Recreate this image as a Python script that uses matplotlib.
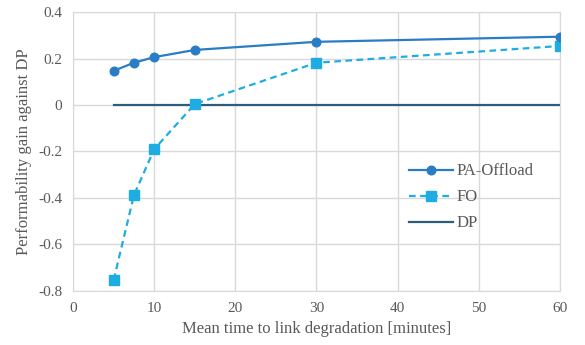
import numpy as np
import matplotlib.pyplot as plt

plt.rcParams['font.family'] = ['Liberation Serif', 'DejaVu Serif']

# data
x = [5, 7.5, 10, 15, 30, 60]
pa_offload = [0.147, 0.182, 0.206, 0.237, 0.272, 0.294]
fo = [-0.753, -0.388, -0.19, 0.004, 0.182, 0.254]
dp = [0, 0, 0, 0, 0, 0]

c_pa = "#2A7DC5"
c_fo = "#1DADE3"
c_dp = "#2E5D7C"
grey = "#595959"
gridc = "#D9D9D9"

fig = plt.figure(figsize=(5.85, 3.45), dpi=100)
ax = fig.add_axes([0.125, 0.157, 0.832, 0.808])

ax.plot(x, pa_offload, color=c_pa, lw=1.6, marker='o', ms=6.2, label='PA-Offload', zorder=4)
ax.plot(x, fo, color=c_fo, lw=1.6, ls=(0, (3, 2)), marker='s', ms=6.5, label='FO', zorder=3)
ax.plot(x, dp, color=c_dp, lw=1.6, label='DP', zorder=2)

ax.set_xlim(0, 60)
ax.set_ylim(-0.8, 0.4)
ax.set_xticks(np.arange(0, 61, 10))
ax.set_yticks(np.arange(-0.8, 0.41, 0.2))
ax.set_yticklabels(['-0.8', '-0.6', '-0.4', '-0.2', '0', '0.2', '0.4'])

ax.grid(True, color=gridc, lw=1)
ax.set_axisbelow(True)
for s in ax.spines.values():
    s.set_color(gridc)
ax.tick_params(length=0, colors=grey, labelsize=11, pad=8)

ax.set_xlabel('Mean time to link degradation [minutes]', color=grey, fontsize=12)
ax.set_ylabel('Performability gain against DP', color=grey, fontsize=12)

leg = ax.legend(loc='center left', bbox_to_anchor=(0.66, 0.335), frameon=False,
                fontsize=12, labelspacing=0.6, handlelength=2.6, handletextpad=0.2)
for t in leg.get_texts():
    t.set_color(grey)

plt.savefig("out.png", dpi=100)
